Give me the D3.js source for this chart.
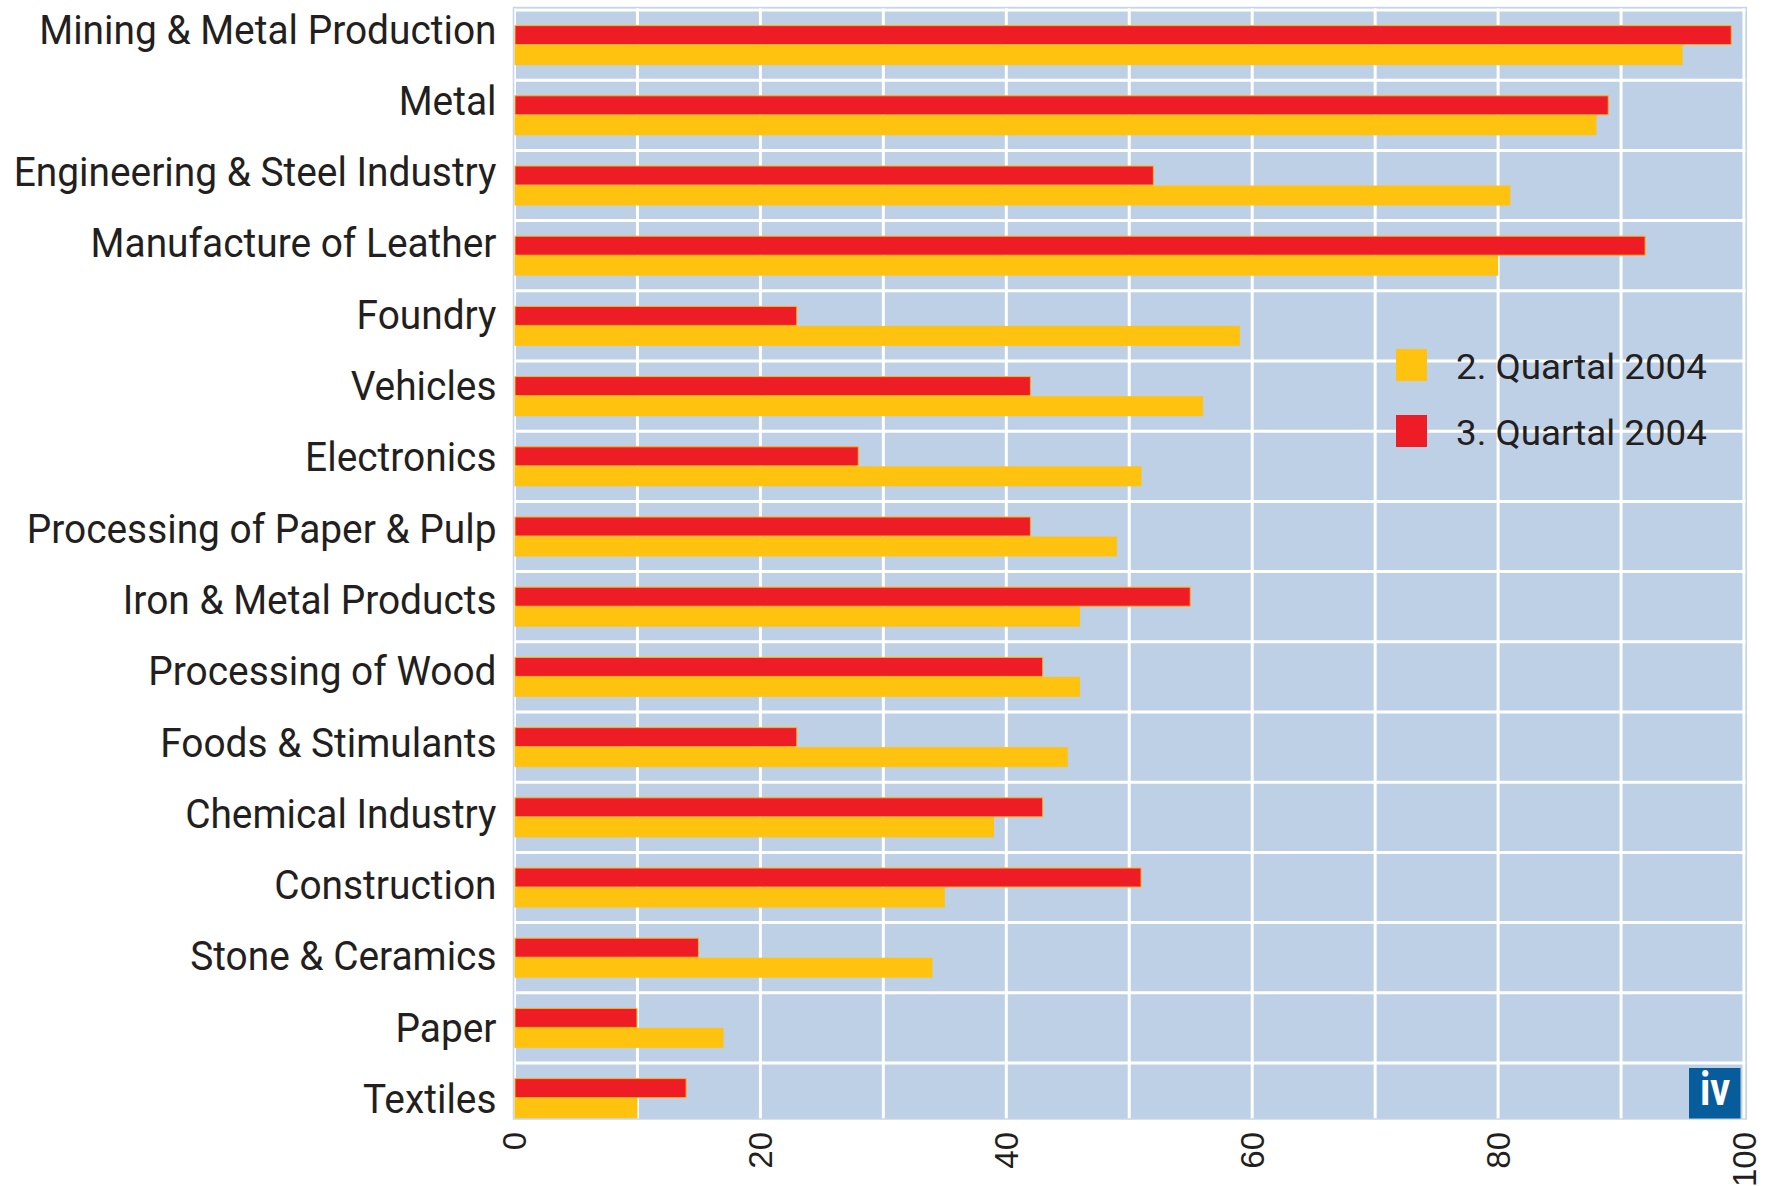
<!DOCTYPE html>
<meta charset="utf-8">
<style>

body, html {
    margin: 0px;
    padding: 0px;
    background: #fff;
    overflow: hidden;
}

text {
    fill: #231f20;
}

</style>
<svg width="1773" height="1186"></svg>
<script src="https://cdn.jsdelivr.net/npm/d3@7"></script>
<script>

var categories = [
    "Mining & Metal Production",
    "Metal",
    "Engineering & Steel Industry",
    "Manufacture of Leather",
    "Foundry",
    "Vehicles",
    "Electronics",
    "Processing of Paper & Pulp",
    "Iron & Metal Products",
    "Processing of Wood",
    "Foods & Stimulants",
    "Chemical Industry",
    "Construction",
    "Stone & Ceramics",
    "Paper",
    "Textiles"
];

// 3. Quartal 2004 (red, upper bar)
var q3 = [99, 89, 52, 92, 23, 42, 28, 42, 55, 43, 23, 43, 51, 15, 10, 14];
// 2. Quartal 2004 (yellow, lower bar)
var q2 = [95, 88, 81, 80, 59, 56, 51, 49, 46, 46, 45, 39, 35, 34, 17, 10];

var seriesNames = ["2. Quartal 2004", "3. Quartal 2004"];
var seriesKeys = ["q2", "q3"];
var xTicks = [0, 20, 40, 60, 80, 100];
var xGrid = d3.range(0, 101, 10);

var colors = { q2: "#ffc20f", q3: "#ee1d25" };

var rows = categories.map(function(c, i) {
    return { name: c, q2: q2[i], q3: q3[i] };
});

var svg = d3.select("svg");

var x = d3.scaleLinear()
    .domain([0, 100])
    .range([514.5, 1744]);

var y = d3.scaleBand()
    .domain(categories)
    .range([10, 10 + 70.2 * categories.length]);

var ySub = d3.scaleBand()
    .domain(["q3", "q2"])
    .range([0, y.bandwidth()])
    .paddingOuter(0.755);

// the labels sit on a slightly wider pitch than the rows
var yLabel = d3.scalePoint()
    .domain(categories)
    .range([43.5, 1113]);

var plotTop = 7.5,
    plotBottom = 1119,
    plotLeft = 513.5,
    plotRight = 1746.3;

// panel
svg.append("rect")
    .attr("x", plotLeft)
    .attr("y", plotTop)
    .attr("width", plotRight - plotLeft)
    .attr("height", plotBottom - plotTop)
    .attr("fill", "#bed0e6");

// white grid
svg.append("g").selectAll("line")
    .data(xGrid)
    .enter().append("line")
    .attr("x1", function(d) { return x(d); })
    .attr("x2", function(d) { return x(d); })
    .attr("y1", plotTop)
    .attr("y2", plotBottom)
    .attr("stroke", "#fff")
    .attr("stroke-width", 3);

svg.append("g").selectAll("line")
    .data(categories)
    .enter().append("line")
    .attr("x1", plotLeft)
    .attr("x2", plotRight)
    .attr("y1", function(d) { return y(d); })
    .attr("y2", function(d) { return y(d); })
    .attr("stroke", "#fff")
    .attr("stroke-width", 3);

svg.append("rect")
    .attr("x", plotLeft)
    .attr("y", plotTop)
    .attr("width", plotRight - plotLeft)
    .attr("height", plotBottom - plotTop)
    .attr("fill", "none")
    .attr("stroke", "#c6d5ea")
    .attr("stroke-width", 1.5);

// bars
var groups = svg.append("g").selectAll("g")
    .data(rows)
    .enter().append("g")
    .attr("transform", function(d) { return "translate(0," + y(d.name) + ")"; });

groups.append("rect")
    .attr("x", x(0))
    .attr("y", ySub("q2"))
    .attr("width", function(d) { return x(d.q2) - x(0); })
    .attr("height", ySub.bandwidth())
    .attr("fill", colors.q2);

groups.append("rect")
    .attr("x", x(0) + 0.5)
    .attr("y", ySub("q3") + 0.5)
    .attr("width", function(d) { return x(d.q3) - x(0) - 1; })
    .attr("height", ySub.bandwidth() - 1)
    .attr("fill", colors.q3)
    .attr("stroke", "#f7b51c")
    .attr("stroke-width", 1);

// category labels, condensed to fit
var labels = svg.append("g").selectAll("text")
    .data(categories)
    .enter().append("text")
    .attr("text-anchor", "end")
    .style("font-family", "Roboto, 'Open Sans', sans-serif")
    .style("font-size", "41.5px")
    .text(function(d) { return d; });

var widest = d3.max(labels.nodes(), function(n) { return n.getComputedTextLength(); });
var k = 483 / widest;

labels.attr("transform", function(d) {
    return "translate(496.5," + yLabel(d) + ") scale(" + k + ",1)";
});

// x tick labels
svg.append("g").selectAll("text")
    .data(xTicks)
    .enter().append("text")
    .attr("transform", function(d) { return "translate(" + x(d) + ",1132) rotate(-90)"; })
    .attr("text-anchor", "end")
    .attr("dy", "0.36em")
    .style("font-family", "'Liberation Sans', Arial, sans-serif")
    .style("font-size", "33px")
    .text(function(d) { return d; });

// legend
var legend = svg.append("g").selectAll("g")
    .data(seriesKeys)
    .enter().append("g")
    .attr("transform", function(d, i) { return "translate(1396," + (349 + i * 66) + ")"; });

legend.append("rect")
    .attr("width", 31)
    .attr("height", 32)
    .attr("fill", function(d) { return colors[d]; });

var legendText = legend.append("text")
    .style("font-family", "Roboto, 'Open Sans', sans-serif")
    .style("font-size", "36px")
    .text(function(d, i) { return seriesNames[i]; });

var lk = 251 / legendText.node().getComputedTextLength();
legendText.attr("transform", "translate(60,29.5) scale(" + lk + ",1)");

// iv logo
svg.append("rect")
    .attr("x", 1689)
    .attr("y", 1068)
    .attr("width", 51.5)
    .attr("height", 50.5)
    .attr("fill", "#075d9c");

svg.append("text")
    .attr("transform", "translate(1715,1105) scale(0.85,1)")
    .attr("text-anchor", "middle")
    .style("font-family", "Roboto, sans-serif")
    .style("font-weight", "bold")
    .style("font-size", "46px")
    .style("fill", "#fff")
    .text("iv");

</script>
